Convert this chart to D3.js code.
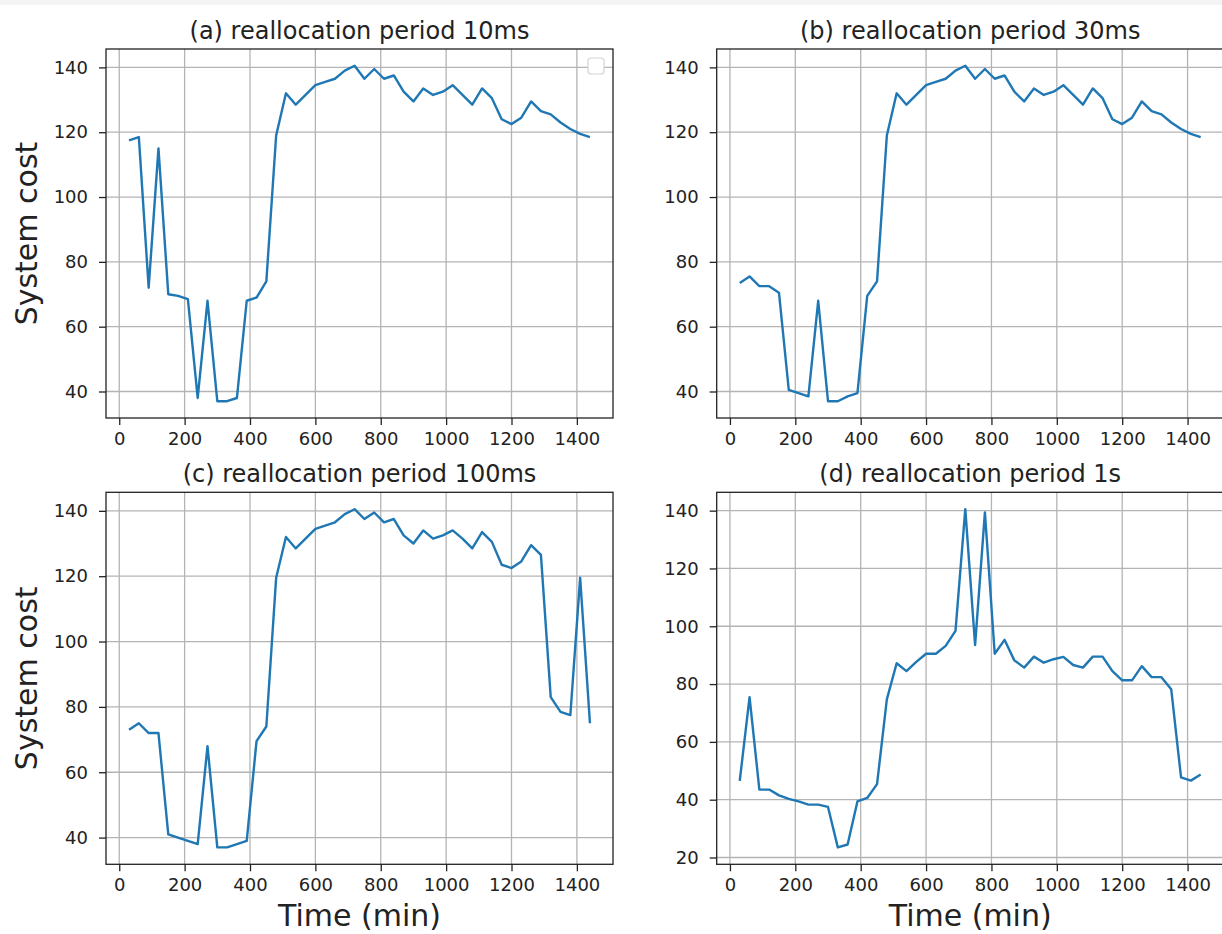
<!DOCTYPE html>
<html>
<head>
<meta charset="utf-8">
<script src="https://cdn.jsdelivr.net/npm/d3@7"></script>
<style>
  body { margin: 0; background: #fff; }
  text { font-family: "DejaVu Sans", sans-serif; fill: #222; }
</style>
</head>
<body>
<script>
// time of day in minutes, one sample every half hour
const times = [30, 60, 90, 120, 150, 180, 210, 240, 270, 300, 330, 360,
  390, 420, 450, 480, 510, 540, 570, 600, 630, 660, 690, 720,
  750, 780, 810, 840, 870, 900, 930, 960, 990, 1020, 1050, 1080,
  1110, 1140, 1170, 1200, 1230, 1260, 1290, 1320, 1350, 1380, 1410, 1440];

// system cost for each reallocation period
const cost10ms = [117.5, 118.5, 72, 115, 70, 69.5, 68.5, 38, 68, 37, 37, 38,
  68, 69, 74, 119, 132, 128.5, 131.5, 134.5, 135.5, 136.5, 139, 140.5,
  136.5, 139.5, 136.5, 137.5, 132.5, 129.5, 133.5, 131.5, 132.5, 134.5, 131.5, 128.5,
  133.5, 130.5, 124, 122.5, 124.5, 129.5, 126.5, 125.5, 123, 121, 119.5, 118.5];

const cost30ms = [73.5, 75.5, 72.5, 72.5, 70.5, 40.5, 39.5, 38.5, 68, 37, 37, 38.5,
  39.5, 69.5, 74, 119, 132, 128.5, 131.5, 134.5, 135.5, 136.5, 139, 140.5,
  136.5, 139.5, 136.5, 137.5, 132.5, 129.5, 133.5, 131.5, 132.5, 134.5, 131.5, 128.5,
  133.5, 130.5, 124, 122.5, 124.5, 129.5, 126.5, 125.5, 123, 121, 119.5, 118.5];

const cost100ms = [73, 75, 72, 72, 41, 40, 39, 38, 68, 37, 37, 38,
  39, 69.5, 74, 119.5, 132, 128.5, 131.5, 134.5, 135.5, 136.5, 139, 140.5,
  137.5, 139.5, 136.5, 137.5, 132.5, 130, 134, 131.5, 132.5, 134, 131.5, 128.5,
  133.5, 130.5, 123.5, 122.5, 124.5, 129.5, 126.5, 83, 78.5, 77.5, 119.5, 75];

const cost1s = [46.5, 75.5, 43.5, 43.5, 41.5, 40.3, 39.4, 38.3, 38.3, 37.5, 23.5, 24.5,
  39.4, 40.6, 45.4, 74.7, 87.2, 84.5, 87.7, 90.5, 90.5, 93.2, 98.4, 140.5,
  93.5, 139.4, 90.5, 95.3, 88.2, 85.7, 89.5, 87.4, 88.6, 89.4, 86.6, 85.7,
  89.5, 89.5, 84.5, 81.3, 81.3, 86.2, 82.4, 82.4, 78.2, 47.7, 46.6, 48.7];

const titles = ["(a) reallocation period 10ms", "(b) reallocation period 30ms",
  "(c) reallocation period 100ms", "(d) reallocation period 1s"];

const xTicks = [0, 200, 400, 600, 800, 1000, 1200, 1400];
const yTicks = [40, 60, 80, 100, 120, 140];
const yTicks1s = [20, 40, 60, 80, 100, 120, 140];

const svg = d3.select("body").append("svg")
  .attr("width", 1222)
  .attr("height", 934)
  .style("background-color", "#fff");

// thin grey strip along the top edge
svg.append("rect")
  .attr("x", 0).attr("y", 0)
  .attr("width", 1222).attr("height", 5)
  .style("fill", "#f4f4f4");

const panels = [
  { values: cost10ms, title: titles[0], ticks: yTicks, left: 106, top: 49, h: 369, yLabel: true, xLabel: false, legend: true },
  { values: cost30ms, title: titles[1], ticks: yTicks, left: 716.7, top: 49, h: 369, yLabel: false, xLabel: false },
  { values: cost100ms, title: titles[2], ticks: yTicks, left: 106, top: 492.3, h: 372, yLabel: true, xLabel: true },
  { values: cost1s, title: titles[3], ticks: yTicks1s, left: 716.7, top: 492.3, h: 372, yLabel: false, xLabel: true }
];

const width = 507;
const lineColor = "#1f77b4";

// matplotlib style 5% margins around the data
function padded(lo, hi) {
  const m = (hi - lo) * 0.05;
  return [lo - m, hi + m];
}

panels.forEach(p => {
  const g = svg.append("g").attr("transform", `translate(${p.left},${p.top})`);

  const x = d3.scaleLinear()
    .domain(padded(d3.min(times), d3.max(times)))
    .range([0, width]);
  const y = d3.scaleLinear()
    .domain(padded(d3.min(p.values), d3.max(p.values)))
    .range([p.h, 0]);

  // grid
  g.selectAll(".vgrid").data(xTicks).enter().append("line")
    .attr("x1", d => x(d)).attr("x2", d => x(d))
    .attr("y1", 0).attr("y2", p.h)
    .style("stroke", "#b4b4b4").style("stroke-width", 1.3);
  g.selectAll(".hgrid").data(p.ticks).enter().append("line")
    .attr("x1", 0).attr("x2", width)
    .attr("y1", d => y(d)).attr("y2", d => y(d))
    .style("stroke", "#b4b4b4").style("stroke-width", 1.3);

  // the series
  const line = d3.line()
    .x((d, i) => x(times[i]))
    .y(d => y(d));
  g.append("path")
    .datum(p.values)
    .attr("d", line)
    .style("fill", "none")
    .style("stroke", lineColor)
    .style("stroke-width", 2.4)
    .style("stroke-linejoin", "round");

  // axes
  const xAxis = d3.axisBottom(x).tickValues(xTicks).tickFormat(d3.format("d"))
    .tickSize(7).tickPadding(7);
  const yAxis = d3.axisLeft(y).tickValues(p.ticks).tickFormat(d3.format("d"))
    .tickSize(7).tickPadding(11);

  const gx = g.append("g").attr("transform", `translate(0,${p.h})`).call(xAxis);
  const gy = g.append("g").call(yAxis);
  [gx, gy].forEach(a => {
    a.select(".domain").remove();
    a.selectAll("line").style("stroke", "#222").style("stroke-width", 1.3);
    a.selectAll("text").style("font-size", "18px").style("fill", "#222");
  });

  // frame
  g.append("rect")
    .attr("width", width).attr("height", p.h)
    .style("fill", "none")
    .style("stroke", "#222")
    .style("stroke-width", 1.3);

  // title
  g.append("text")
    .attr("x", width / 2).attr("y", -10)
    .attr("text-anchor", "middle")
    .style("font-size", "24px")
    .text(p.title);

  if (p.yLabel) {
    g.append("text")
      .attr("transform", `translate(${-69},${p.h / 2}) rotate(-90)`)
      .attr("text-anchor", "middle")
      .style("font-size", "30px")
      .text("System cost");
  }
  if (p.xLabel) {
    g.append("text")
      .attr("x", width / 2).attr("y", p.h + 62)
      .attr("text-anchor", "middle")
      .style("font-size", "30px")
      .text("Time (min)");
  }
  if (p.legend) {
    // empty legend box
    g.append("rect")
      .attr("x", width - 25).attr("y", 9)
      .attr("width", 16).attr("height", 16)
      .attr("rx", 3)
      .style("fill", "#fff")
      .style("stroke", "#d4d4d4")
      .style("stroke-width", 1.2);
  }
});
</script>
</body>
</html>
